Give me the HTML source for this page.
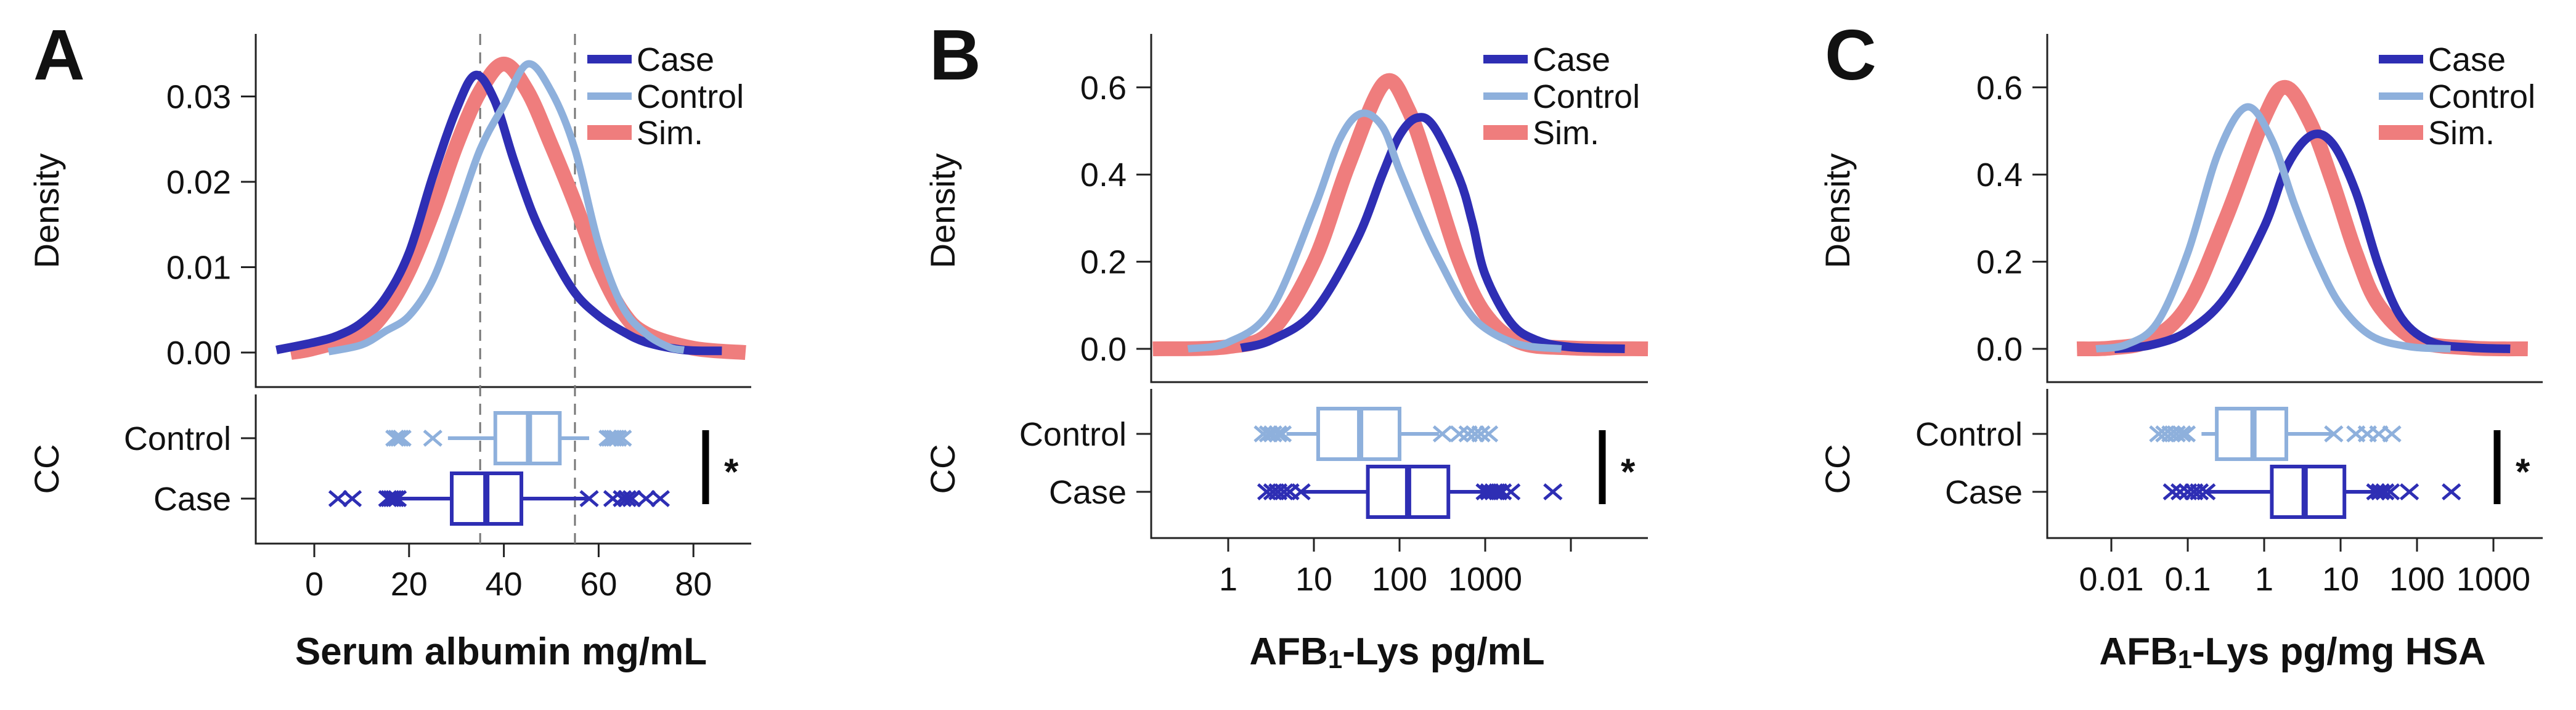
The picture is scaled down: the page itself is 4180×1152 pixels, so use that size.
<!DOCTYPE html>
<html><head><meta charset="utf-8"><style>
html,body{margin:0;padding:0;background:#fff;overflow:hidden}
svg{display:block}
text{font-family:"Liberation Sans",sans-serif;fill:#111}
</style></head><body>
<svg id="fig" width="4180" height="1152" viewBox="0 0 4180 1152" xmlns="http://www.w3.org/2000/svg"></svg>
<script>
// ---------- Panel A data (serum albumin, linear) ----------
const aCaseX=[-8,0,5,10,15,20,25,30,34,38,42,46,50,55,60,65,70,78,86];
const aCaseY=[0.0003,0.0012,0.002,0.0035,0.0064,0.0117,0.0206,0.0285,0.0325,0.0296,0.0227,0.0164,0.0117,0.007,0.0043,0.0025,0.0012,0.0003,0.0002];
const aCtrlX=[3,10,15,20,25,30,35,40,45,50,55,60,65,70,75,78];
const aCtrlY=[0.0001,0.0009,0.0025,0.0043,0.0085,0.0159,0.0238,0.029,0.0338,0.0306,0.0238,0.0127,0.0054,0.0022,0.0006,0.0003];
const aSimX=[-5,0,10,15,20,25,30,35,40,45,50,55,60,65,70,80,91];
const aSimY=[0,0.0005,0.0022,0.0048,0.0096,0.0164,0.0243,0.0306,0.0338,0.0306,0.0243,0.0175,0.0101,0.0048,0.0022,0.0005,0];
const aCtrlBox=[28.2,38.2,45.3,51.8,58];
const aCaseBox=[18,29,36.3,43.7,58.5];
const aCtrlOut=[17,17.5,18,18.5,25,62,62.5,63,63.5,64,65];
const aCaseOut=[5,8,15.5,16,16.5,17,17.5,58,63,65,66,67,70,73];
const aXTicks=[0,20,40,60,80];
const aYTicks=[0,0.01,0.02,0.03];
const aYLabels=["0.00","0.01","0.02","0.03"];
const aRefLines=[35,55];
// ---------- Panel B data (AFB1-Lys pg/mL, log10 units) ----------
const bCaseLogX=[0.15,0.5,1.0,1.5,1.8,2.0,2.2,2.4,2.7,2.85,3.0,3.3,3.6,4.0,4.63];
const bCaseY=[0.002,0.02,0.085,0.25,0.40,0.49,0.53,0.51,0.39,0.29,0.17,0.06,0.02,0.004,0];
const bCtrlLogX=[-0.47,0,0.5,1.0,1.3,1.55,1.8,2.0,2.3,2.5,2.75,3.0,3.4,3.89];
const bCtrlY=[0,0.015,0.09,0.32,0.48,0.54,0.51,0.41,0.27,0.19,0.10,0.047,0.01,0];
const bSimLogX=[-0.88,0,0.5,1.0,1.4,1.82,2.1,2.4,2.7,3.0,3.4,4.0,4.9];
const bSimY=[0,0.005,0.04,0.2,0.42,0.61,0.55,0.38,0.20,0.08,0.015,0.002,0];
const bCtrlBox=[0.68,1.05,1.54,2.0,2.46];
const bCaseBox=[0.87,1.63,2.1,2.57,2.98];
const bCtrlOut=[0.41,0.47,0.52,0.58,0.63,2.5,2.7,2.8,2.88,2.95,3.04];
const bCaseOut=[0.45,0.52,0.58,0.65,0.72,0.85,3.0,3.05,3.1,3.15,3.2,3.3,3.79];
const bXTicks=[0,1,2,3,4];
const bXLabels=["1","10","100","1000",""];
const bYTicks=[0,0.2,0.4,0.6];
const bYLabels=["0.0","0.2","0.4","0.6"];
// ---------- Panel C data (AFB1-Lys pg/mg HSA, log10 units) ----------
const cCaseLogX=[-1.96,-1.5,-1,-0.5,0,0.3,0.62,0.9,1.2,1.5,1.8,2.2,2.7,3.22];
const cCaseY=[0,0.008,0.04,0.12,0.28,0.42,0.49,0.47,0.36,0.19,0.07,0.015,0.003,0];
const cCtrlLogX=[-2.2,-1.8,-1.4,-1,-0.6,-0.23,0.1,0.4,0.7,1.0,1.4,1.9,2.44];
const cCtrlY=[0,0.01,0.06,0.22,0.45,0.555,0.48,0.33,0.20,0.10,0.03,0.005,0];
const cSimLogX=[-2.45,-2,-1.5,-1,-0.5,0,0.28,0.6,0.9,1.2,1.5,2,2.7,3.45];
const cSimY=[0,0.002,0.02,0.1,0.3,0.53,0.60,0.52,0.38,0.22,0.10,0.02,0.002,0];
const cCtrlBox=[-0.82,-0.62,-0.14,0.29,0.91];
const cCaseBox=[-0.74,0.1,0.53,1.05,1.46];
const cCtrlOut=[-1.38,-1.3,-1.22,-1.15,-1.08,-1.02,0.91,1.2,1.35,1.5,1.67];
const cCaseOut=[-1.2,-1.1,-1.0,-0.92,-0.85,-0.76,1.46,1.52,1.58,1.65,1.9,2.45];
const cXTicks=[-2,-1,0,1,2,3];
const cXLabels=["0.01","0.1","1","10","100","1000"];

const NS="http://www.w3.org/2000/svg";
const svg=document.getElementById('fig');
const COL={caseC:'#2e2eb4',ctrl:'#8eb0dc',sim:'#ef7d7d',axis:'#222'};
function mk(tag,attrs,parent){const e=document.createElementNS(NS,tag);for(const k in attrs)e.setAttribute(k,attrs[k]);(parent||svg).appendChild(e);return e;}
function txt(s,attrs,parent){const t=mk('text',attrs,parent);t.textContent=s;return t;}
function smooth(pts){let d='M'+pts[0][0]+','+pts[0][1];for(let i=0;i<pts.length-1;i++){const p0=pts[i-1]||pts[i],p1=pts[i],p2=pts[i+1],p3=pts[i+2]||p2;
const c1=[p1[0]+(p2[0]-p0[0])/6,p1[1]+(p2[1]-p0[1])/6],c2=[p2[0]-(p3[0]-p1[0])/6,p2[1]-(p3[1]-p1[1])/6];
d+=' C'+c1[0]+','+c1[1]+' '+c2[0]+','+c2[1]+' '+p2[0]+','+p2[1];}return d;}

function panel(P){
  const g=mk('g',{});
  
  
  const lt=txt(P.letter,{x:P.letterX,y:129,'font-size':116,'font-weight':'bold'},g);
  
  const ax=mk('path',{d:`M${P.x0},${P.top} V${P.dBot} H${P.x1} M${P.x0},${P.bTop} V${P.bBot} H${P.x1}`,stroke:COL.axis,'stroke-width':3,fill:'none'},g);
  
  P.yTicks.forEach((v,i)=>{const y=P.ym(v);
    const t=mk('line',{x1:P.x0-24,x2:P.x0,y1:y,y2:y,stroke:COL.axis,'stroke-width':3},g);
    
    const l=txt(P.yLabels[i],{x:P.x0-40,y:y+19,'font-size':54,'text-anchor':'end'},g);
    });
  [['Control',P.yCtrl],['Case',P.yCase]].forEach(([n,y])=>{
    const t=mk('line',{x1:P.x0-24,x2:P.x0,y1:y,y2:y,stroke:COL.axis,'stroke-width':3},g);
    
    const l=txt(n,{x:P.x0-40,y:y+19,'font-size':54,'text-anchor':'end'},g);
    });
  P.xTicks.forEach((v,i)=>{const x=P.xm(v);
    const t=mk('line',{x1:x,x2:x,y1:P.bBot,y2:P.bBot+22,stroke:COL.axis,'stroke-width':3},g);
    
    const l=txt(P.xLabels[i],{x:x,y:P.tickLblY,'font-size':54,'text-anchor':'middle'},g);
    });
  const yl=txt('Density',{x:0,y:0,'font-size':56,'text-anchor':'middle',transform:`translate(${P.ylx},342) rotate(-90)`},g);
  
  const cl=txt('CC',{x:0,y:0,'font-size':56,'text-anchor':'middle',transform:`translate(${P.ylx},${P.ccY}) rotate(-90)`},g);
  
  const xl=mk('text',{x:P.xlx,y:1078,'font-size':62,'font-weight':'bold','text-anchor':'middle'},g);
  xl.innerHTML=P.xTitle;
  
  (P.refs||[]).forEach(v=>{const x=P.xm(v);
    const r=mk('line',{x1:x,x2:x,y1:P.top,y2:P.bBot,stroke:'#777','stroke-width':3,'stroke-dasharray':'18,12'},g);
    });
  [['sim',P.simX,P.simY,COL.sim,24],['case',P.caseX,P.caseY,COL.caseC,14],['control',P.ctrlX,P.ctrlY,COL.ctrl,12]].forEach(([n,xs,ys,c,w])=>{
    const pts=xs.map((v,i)=>[P.xm(v),P.ym(ys[i])]);
    const p=mk('path',{d:smooth(pts),stroke:c,'stroke-width':w,fill:'none','stroke-linejoin':'round'},g);
    });
  [['control',P.ctrlBox,P.ctrlOut,P.yCtrl,COL.ctrl],['case',P.caseBox,P.caseOut,P.yCase,COL.caseC]].forEach(([n,b,outs,y,c])=>{
    const w=mk('line',{x1:P.xm(b[0]),x2:P.xm(b[4]),y1:y,y2:y,stroke:c,'stroke-width':6},g);
    
    const r=mk('rect',{x:P.xm(b[1]),y:y-41,width:P.xm(b[3])-P.xm(b[1]),height:82,fill:'#fff',stroke:c,'stroke-width':6},g);
    
    const m=mk('line',{x1:P.xm(b[2]),x2:P.xm(b[2]),y1:y-41,y2:y+41,stroke:c,'stroke-width':10},g);
    
    outs.forEach(v=>{const x=P.xm(v),s=14,sy=12;
      const o=mk('path',{d:`M${x-s},${y-sy} L${x+s},${y+sy} M${x-s},${y+sy} L${x+s},${y-sy}`,stroke:c,'stroke-width':5,fill:'none'},g);
      });
  });
  const sb=mk('line',{x1:P.sigX,x2:P.sigX,y1:P.sigTop,y2:P.sigTop+120,stroke:'#000','stroke-width':11},g);
  
  const st=txt('*',{x:P.sigX+30,y:P.sigTop+88,'font-size':60,'font-weight':'bold'},g);
  
  [['Case',COL.caseC,14,96],['Control',COL.ctrl,12,156],['Sim.',COL.sim,24,215]].forEach(([n,c,w,y])=>{
    const e=mk('g',{},g);
    
    mk('line',{x1:P.legX,x2:P.legX+72,y1:y,y2:y,stroke:c,'stroke-width':w},e);
    txt(n,{x:P.legX+80,y:y+19,'font-size':54},e);});
}

function linY(y0,pxPerUnit){return v=>y0-v*pxPerUnit;}
panel({id:'a',letter:'A',letterX:54,x0:415,x1:1219,top:55,dBot:628,bTop:640,bBot:882,yCtrl:711,yCase:809,
  xm:v=>510+v*7.69,ym:linY(572,13850),xTicks:aXTicks,xLabels:aXTicks.map(String),yTicks:aYTicks,yLabels:aYLabels,
  ylx:95,ccY:761,tickLblY:966,xlx:813,xTitle:'Serum albumin mg/mL',refs:aRefLines,
  caseX:aCaseX,caseY:aCaseY,ctrlX:aCtrlX,ctrlY:aCtrlY,simX:aSimX,simY:aSimY,
  ctrlBox:aCtrlBox,caseBox:aCaseBox,ctrlOut:aCtrlOut,caseOut:aCaseOut,sigX:1145,sigTop:698,legX:953});
panel({id:'b',letter:'B',letterX:1508,x0:1868,x1:2674,top:55,dBot:620,bTop:631,bBot:873,yCtrl:704,yCase:798,
  xm:v=>1993+v*139,ym:linY(566,707),xTicks:bXTicks,xLabels:bXLabels,yTicks:bYTicks,yLabels:bYLabels,
  ylx:1549,ccY:761,tickLblY:958,xlx:2267,xTitle:'AFB<tspan font-size="42" dy="6">1</tspan><tspan dy="-6">-Lys pg/mL</tspan>',
  caseX:bCaseLogX,caseY:bCaseY,ctrlX:bCtrlLogX,ctrlY:bCtrlY,simX:bSimLogX,simY:bSimY,
  ctrlBox:bCtrlBox,caseBox:bCaseBox,ctrlOut:bCtrlOut,caseOut:bCaseOut,sigX:2600,sigTop:698,legX:2407});
panel({id:'c',letter:'C',letterX:2961,x0:3322,x1:4126,top:55,dBot:620,bTop:631,bBot:873,yCtrl:704,yCase:798,
  xm:v=>3674+v*124,ym:linY(566,707),xTicks:cXTicks,xLabels:cXLabels,yTicks:bYTicks,yLabels:bYLabels,
  ylx:3001,ccY:761,tickLblY:958,xlx:3720,xTitle:'AFB<tspan font-size="42" dy="6">1</tspan><tspan dy="-6">-Lys pg/mg HSA</tspan>',
  caseX:cCaseLogX,caseY:cCaseY,ctrlX:cCtrlLogX,ctrlY:cCtrlY,simX:cSimLogX,simY:cSimY,
  ctrlBox:cCtrlBox,caseBox:cCaseBox,ctrlOut:cCtrlOut,caseOut:cCaseOut,sigX:4052,sigTop:698,legX:3860});
</script>
</body></html>
